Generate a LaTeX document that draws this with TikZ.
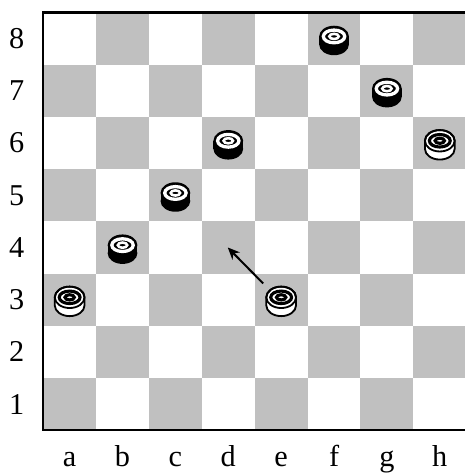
\documentclass[tikz,border=0pt]{standalone}
\usepackage{fontspec}
\setmainfont{Liberation Serif}
\usepackage{tikz}
\usepackage{xcolor}
\usetikzlibrary{arrows.meta, calc, positioning}

\definecolor{boardgray}{HTML}{C0C0C0}

\tikzset{
    blackman/.pic={
        \fill[black] (0,-0.155) ellipse [x radius=0.285cm, y radius=0.205cm];
        \fill[black] (-0.285cm,-0.155) rectangle (0.285cm,0);
        \fill[black] (0,0) ellipse [x radius=0.285cm, y radius=0.205cm];
        \draw[white, line width=1.8pt] (0,0) ellipse [x radius=0.205cm, y radius=0.122cm];
        \draw[white, line width=1.4pt] (0,0) ellipse [x radius=0.09cm, y radius=0.05cm];
    },
    whiteman/.pic={
        \filldraw[fill=white, draw=black, line width=1pt] (-0.285cm,0) -- (-0.285cm,-0.155)
            arc [start angle=180, end angle=360, x radius=0.285cm, y radius=0.205cm]
            -- (0.285cm,0)
            arc [start angle=0, end angle=180, x radius=0.285cm, y radius=0.205cm] -- cycle;
        \draw[line width=1pt] (0,0) ellipse [x radius=0.285cm, y radius=0.205cm];
        \draw[line width=1.7pt] (0,0) ellipse [x radius=0.2cm, y radius=0.12cm];
        \draw[line width=1.7pt] (0,0) ellipse [x radius=0.09cm, y radius=0.05cm];
    },
    coordlabel/.style={inner sep=0pt, font=\fontsize{16.5}{20}\selectfont},
}

\begin{document}
\begin{tikzpicture}[x=1.0134cm, y=1cm]
    \useasboundingbox (-0.817,-0.86) rectangle (7.97,8.243);

    % squares
    \foreach \i in {0,...,7} {
        \foreach \j in {0,2,4,6} {
            \pgfmathtruncatemacro\r{\j+mod(\i,2)}
            \fill[boardgray] (\i,\r) rectangle ++(1,1);
        }
    }
    \draw[line width=1.3pt] (0,0) rectangle (8,8);

    % coordinates
    \foreach \f [count=\n] in {a,b,c,d,e,f,g,h}
        \node[coordlabel, anchor=base] (file\f) at (\n-0.5,-0.706) {\f};
    \foreach \r in {1,...,8}
        \node[coordlabel] (rank\r) at (-0.5,\r-0.5) {\r};

    % men
    \foreach \p in {(5.5,7.545),(6.5,6.545),(3.5,5.545),(2.5,4.545),(1.5,3.545)}
        \pic at \p {blackman};
    \foreach \p in {(7.5,5.545),(0.5,2.545),(4.5,2.545)}
        \pic at \p {whiteman};

    % move
    \coordinate (mvfrom) at (4.16,2.81);
    \coordinate (mvto) at (3.49,3.5);
    \draw[line width=1.1pt, -{Stealth[length=2.3mm, width=2mm]}] (mvfrom) -- (mvto);
\end{tikzpicture}
\end{document}
